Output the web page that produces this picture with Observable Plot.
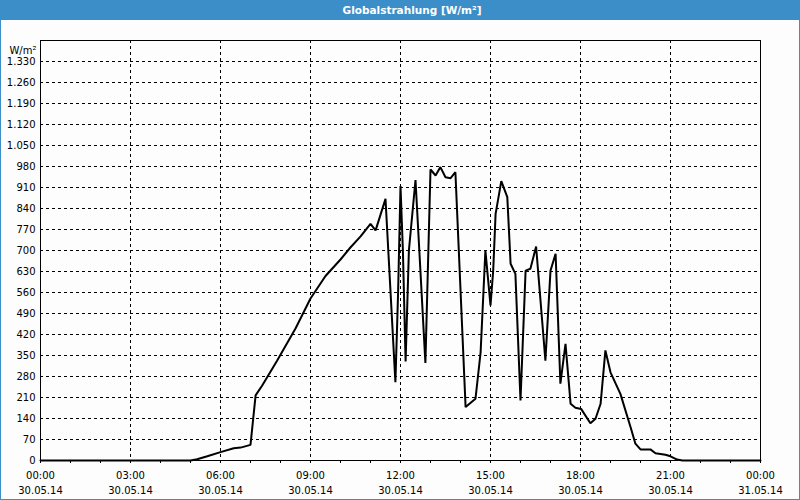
<!DOCTYPE html>
<html>
<head>
<meta charset="utf-8">
<script src="https://cdn.jsdelivr.net/npm/d3@7"></script>
<script src="https://cdn.jsdelivr.net/npm/@observablehq/plot@0.6"></script>
<style>
  html, body { margin: 0; padding: 0; background: #fcfdfc; }
  #wrap { position: relative; width: 800px; height: 500px; background: #fcfdfc; overflow: hidden; }
  #title { position: absolute; left: 0; top: 0; width: 800px; height: 20px; background: #3c8ec8;
           color: #ffffff; font: bold 10.5px "DejaVu Sans", sans-serif; text-align: center; line-height: 21px; }
  #title span { position: relative; left: 12px; }
  #chart { position: absolute; left: 0; top: 20px; }
  #border { position: absolute; left: 0; top: 0; width: 798px; height: 499px; border-left: 1px solid #3c8ec8;
            border-right: 1px solid #3c8ec8; border-bottom: 1px solid #3c8ec8; pointer-events: none; }
</style>
</head>
<body>
<div id="wrap">
  <div id="title"><span>Globalstrahlung [W/m²]</span></div>
  <div id="chart"></div>
  <div id="border"></div>
</div>
<script>
// Time of day in hours (30.05.14) and global radiation in W/m²
const hours = [0, 5.0, 5.22, 5.56, 6.0, 6.44, 6.67, 7.0, 7.17, 7.39, 7.89, 8.5, 9.0, 9.5, 10.0, 10.33, 10.67, 11.0, 11.17, 11.5,
  11.83, 11.92, 12.0, 12.08, 12.17, 12.28, 12.5, 12.83, 13.0, 13.17, 13.33, 13.5, 13.67, 13.83, 14.17, 14.5, 14.67, 14.83,
  15.0, 15.09, 15.17, 15.36, 15.56, 15.67, 15.83, 16.0, 16.17, 16.33, 16.52, 16.83, 17.0, 17.17, 17.33, 17.5, 17.67, 17.83,
  18.02, 18.33, 18.5, 18.67, 18.83, 19.0, 19.33, 19.67, 19.83, 20.0, 20.33, 20.5, 20.83, 21.0, 21.22, 21.4, 24];
const radiation = [0, 0, 4, 14, 28, 41, 43, 52, 217, 250, 333, 440, 540, 615, 670, 710, 747, 789, 767, 872,
  261, 560, 915, 700, 330, 700, 935, 325, 970, 950, 978, 944, 941, 961, 178, 206, 360, 700,
  517, 633, 822, 931, 878, 656, 622, 200, 633, 639, 713, 333, 633, 689, 256, 389, 189, 176,
  172, 124, 139, 189, 367, 294, 222, 111, 56, 37, 37, 24, 19, 14, 3, 0, 0];

const yTicks = [0, 70, 140, 210, 280, 350, 420, 490, 560, 630, 700, 770, 840, 910, 980, 1050, 1120, 1190, 1260, 1330];
const xTicks = [0, 3, 6, 9, 12, 15, 18, 21, 24];
const timeLabels = ["00:00", "03:00", "06:00", "09:00", "12:00", "15:00", "18:00", "21:00", "00:00"];
const dateLabels = ["30.05.14", "30.05.14", "30.05.14", "30.05.14", "30.05.14", "30.05.14", "30.05.14", "30.05.14", "31.05.14"];
const minorTicks = d3.range(0, 25);
const unitLabel = "W/m²";

const data = hours.map((h, i) => ({h, v: radiation[i]}));
const de = d3.formatLocale({decimal: ",", thousands: ".", grouping: [3], currency: ["", "€"]}).format(",");
const labels = xTicks.map((x, i) => ({x, t: timeLabels[i], d: dateLabels[i]}));

const chart = Plot.plot({
  width: 800,
  height: 480,
  marginLeft: 40,
  marginRight: 40,
  marginTop: 20,
  marginBottom: 40,
  style: {fontFamily: "DejaVu Sans, sans-serif", fontSize: "10px", color: "#000", background: "transparent"},
  x: {domain: [0, 24], label: null},
  y: {domain: [0, 1400], label: null},
  marks: [
    Plot.gridY(yTicks.filter(d => d > 0), {stroke: "#000", strokeOpacity: 1, strokeDasharray: "3,3"}),
    Plot.gridX(xTicks.filter(d => d > 0 && d < 24), {stroke: "#000", strokeOpacity: 1, strokeDasharray: "3,3"}),
    Plot.axisX({ticks: minorTicks, tickSize: 3, tickFormat: () => "", stroke: "#000", label: null}),
    Plot.axisY({ticks: yTicks, tickSize: 0, tickPadding: 5, tickFormat: de, fill: "#000", fontSize: 10, label: null}),
    Plot.text(labels, {x: "x", y: () => 0, text: "t", dy: 15, fill: "#000", fontSize: 10}),
    Plot.text(labels, {x: "x", y: () => 0, text: "d", dy: 30, fill: "#000", fontSize: 10}),
    Plot.text([unitLabel], {frameAnchor: "top-left", dx: -4, dy: 6, textAnchor: "end", fill: "#000", fontSize: 10}),
    Plot.frame({stroke: "#000"}),
    Plot.line(data, {x: "h", y: "v", stroke: "#000", strokeWidth: 2, strokeLinejoin: "miter"})
  ]
});
document.getElementById("chart").appendChild(chart);
</script>
</body>
</html>
